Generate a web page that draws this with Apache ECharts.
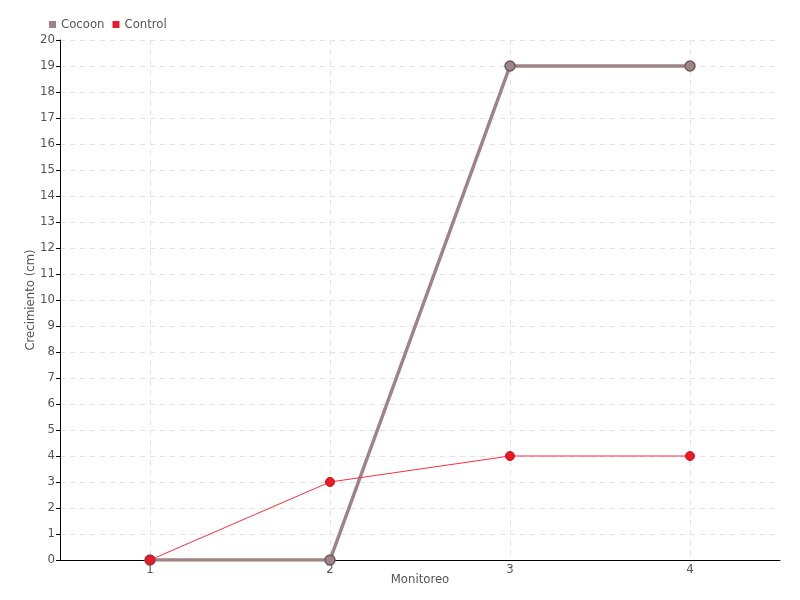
<!DOCTYPE html>
<html>
<head>
<meta charset="utf-8">
<script src="https://cdn.jsdelivr.net/npm/echarts@6/dist/echarts.min.js"></script>
<style>html,body{margin:0;padding:0;background:#fff}#c{width:800px;height:600px}</style>
</head>
<body>
<div id="c"></div>
<script>
const categories = ['1', '2', '3', '4'];
const cocoonValues = [0, 0, 19, 19];
const controlValues = [0, 3, 4, 4];
const seriesNames = ['Cocoon', 'Control'];

const FONT = '"Liberation Sans Narrow", "DejaVu Sans Condensed", "Roboto Condensed", sans-serif';
const chart = echarts.init(document.getElementById('c'));
chart.setOption({
  animation: false,
  textStyle: { fontFamily: FONT },
  legend: {
    left: 44, top: 13,
    itemWidth: 7, itemHeight: 7, itemGap: 8,
    icon: 'rect',
    itemStyle: { borderWidth: 0 },
    textStyle: { fontFamily: FONT, fontSize: 13, color: '#555' },
    data: seriesNames
  },
  grid: { left: 60, right: 20, top: 40, bottom: 40 },
  xAxis: {
    type: 'category',
    data: categories,
    boundaryGap: true,
    name: 'Monitoreo',
    nameLocation: 'middle',
    nameGap: 13,
    nameMoveOverlap: false,
    nameTextStyle: { fontFamily: FONT, fontSize: 13, color: '#555' },
    axisLine: { lineStyle: { color: '#000', width: 1 } },
    axisTick: { alignWithLabel: true, length: 5, lineStyle: { color: '#000' } },
    axisLabel: { margin: 3, fontFamily: FONT, fontSize: 13, color: '#555' },
    splitLine: { show: true, alignWithLabel: true, lineStyle: { color: '#e2e2e2', type: [5, 5] } }
  },
  yAxis: {
    type: 'value',
    min: 0, max: 20, interval: 1,
    name: 'Crecimiento (cm)',
    nameLocation: 'middle',
    nameGap: 23,
    nameMoveOverlap: false,
    nameTextStyle: { fontFamily: FONT, fontSize: 13, color: '#555' },
    axisLine: { show: true, lineStyle: { color: '#000', width: 1 } },
    axisTick: { show: true, length: 4, lineStyle: { color: '#000' } },
    axisLabel: { margin: 5, fontFamily: FONT, fontSize: 13, color: '#555' },
    splitLine: { show: true, lineStyle: { color: '#e2e2e2', type: [5, 5] } }
  },
  series: [
    {
      name: seriesNames[0], type: 'line', data: cocoonValues,
      symbol: 'circle', symbolSize: 10,
      itemStyle: { color: '#9e8387', borderColor: '#705a5e', borderWidth: 1.5 },
      lineStyle: { color: '#9e8387', width: 3.5 },
      z: 2
    },
    {
      name: seriesNames[1], type: 'line', data: controlValues,
      symbol: 'circle', symbolSize: 9,
      itemStyle: { color: '#ea1a2a', borderColor: '#d0101e', borderWidth: 1 },
      lineStyle: { color: '#f5303f', width: 1 },
      z: 3
    }
  ]
});
</script>
</body>
</html>
